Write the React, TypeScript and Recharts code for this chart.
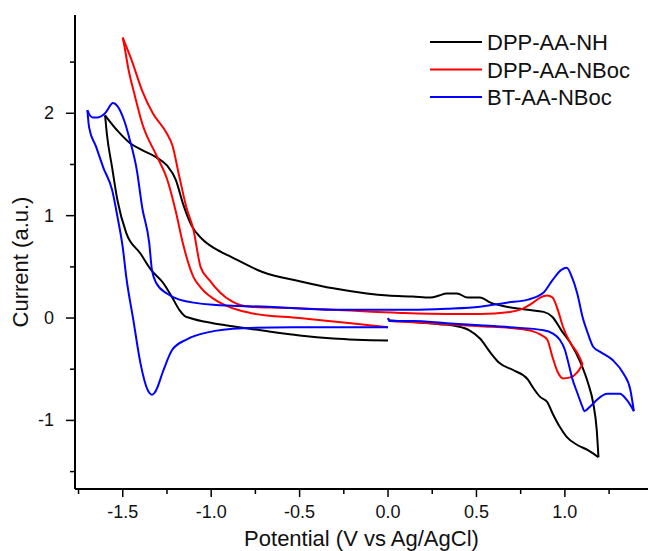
import { LineChart, Line, XAxis, YAxis, Legend } from "recharts";

// potential (V vs Ag/AgCl) and current (a.u.), in scan order
const dppNhE = [
  0.0, 0.14, 0.29, 0.39, 0.46, 0.52, 0.58, 0.63, 0.71, 0.79, 0.82, 0.86, 0.9, 0.93, 0.97, 1.01, 1.07, 1.13, 1.19,
  1.18, 1.16, 1.13, 1.09, 1.03, 0.98, 0.93, 0.88, 0.79, 0.67, 0.58, 0.52, 0.45, 0.39, 0.33, 0.29, 0.24, 0.14, 0.0,
  -0.12, -0.31, -0.5, -0.71, -0.89, -0.98, -1.05, -1.11, -1.16, -1.2, -1.25, -1.31, -1.39, -1.46, -1.53, -1.6,
  -1.59, -1.56, -1.53, -1.48, -1.4, -1.34, -1.27, -1.22, -1.18, -1.15, -1.12, -0.99, -0.88, -0.68, -0.5, -0.31, 0.0,
];
const dppNhI = [
  -0.02, -0.04, -0.06, -0.08, -0.12, -0.2, -0.34, -0.44, -0.51, -0.6, -0.68, -0.77, -0.82, -0.93, -1.06, -1.16, -1.24, -1.29, -1.36,
  -1.09, -0.83, -0.63, -0.44, -0.24, -0.12, 0.01, 0.06, 0.08, 0.11, 0.15, 0.2, 0.2, 0.24, 0.24, 0.22, 0.2, 0.21, 0.22,
  0.24, 0.29, 0.36, 0.45, 0.6, 0.68, 0.77, 0.9, 1.12, 1.35, 1.49, 1.57, 1.64, 1.71, 1.83, 1.98,
  1.8, 1.47, 1.15, 0.83, 0.63, 0.47, 0.34, 0.2, 0.08, 0.02, 0.0, -0.05, -0.08, -0.13, -0.17, -0.2, -0.22,
];

const dppNbocE = [
  0.0, 0.01, 0.14, 0.33, 0.52, 0.71, 0.82, 0.86, 0.9, 0.93, 0.96, 0.99, 1.03, 1.07, 1.1,
  1.07, 1.03, 0.99, 0.96, 0.93, 0.9, 0.86, 0.82, 0.76, 0.69, 0.52, 0.33, 0.07, -0.31, -0.59, -0.78, -0.88, -0.95,
  -1.01, -1.06, -1.1, -1.14, -1.18, -1.22, -1.25, -1.33, -1.39, -1.45, -1.5,
  -1.49, -1.47, -1.43, -1.39, -1.31, -1.25, -1.2, -1.16, -1.1, -1.06, -0.95, -0.78, -0.5, -0.21, 0.0,
];
const dppNbocI = [
  0.0, -0.03, -0.04, -0.06, -0.08, -0.1, -0.13, -0.16, -0.21, -0.38, -0.53, -0.59, -0.58, -0.53, -0.45,
  -0.34, -0.24, -0.09, 0.08, 0.2, 0.22, 0.2, 0.15, 0.09, 0.06, 0.04, 0.04, 0.05, 0.08, 0.1, 0.11, 0.16, 0.25,
  0.37, 0.5, 0.86, 1.08, 1.38, 1.69, 1.8, 2.0, 2.22, 2.52, 2.74,
  2.65, 2.45, 2.16, 1.9, 1.59, 1.36, 1.04, 0.73, 0.4, 0.3, 0.15, 0.05, 0.0, -0.05, -0.09,
];

const btNbocE = [
  0.0, 0.01, 0.14, 0.33, 0.52, 0.69, 0.88, 0.93, 0.97, 1.0, 1.02, 1.04, 1.07, 1.1, 1.11, 1.14, 1.18, 1.24, 1.31, 1.35, 1.37, 1.39,
  1.37, 1.33, 1.27, 1.2, 1.16, 1.13, 1.1, 1.07, 1.04, 1.01, 0.98, 0.93, 0.88, 0.79, 0.67, 0.52, 0.33, 0.14, -0.05, -0.31, -0.68, -0.99,
  -1.18, -1.25, -1.31, -1.335, -1.35, -1.39, -1.42, -1.46, -1.49, -1.53, -1.555, -1.6, -1.64, -1.67, -1.69, -1.7,
  -1.69, -1.65, -1.61, -1.56, -1.53, -1.5, -1.48, -1.44, -1.4, -1.36, -1.35, -1.335, -1.32, -1.31, -1.27, -1.22, -1.14, -1.02, -0.82, -0.54, 0.0,
];
const btNbocI = [
  0.0, -0.03, -0.03, -0.05, -0.07, -0.09, -0.12, -0.15, -0.21, -0.31, -0.44, -0.58, -0.73, -0.87, -0.91, -0.87, -0.8, -0.74, -0.74, -0.8, -0.85, -0.91,
  -0.7, -0.54, -0.41, -0.33, -0.28, -0.15, 0.01, 0.24, 0.4, 0.49, 0.47, 0.37, 0.25, 0.18, 0.15, 0.11, 0.09, 0.08, 0.08, 0.08, 0.11, 0.13,
  0.18, 0.24, 0.34, 0.47, 0.73, 1.08, 1.44, 1.74, 1.92, 2.07, 2.1, 2.0, 1.96, 1.96, 1.99, 2.03,
  1.86, 1.67, 1.47, 1.25, 0.99, 0.69, 0.4, -0.02, -0.44, -0.7, -0.73, -0.75, -0.73, -0.7, -0.51, -0.31, -0.21, -0.14, -0.1, -0.09, -0.09,
];

const xTicks = [-1.75, -1.5, -1.25, -1, -0.75, -0.5, -0.25, 0, 0.25, 0.5, 0.75, 1, 1.25];
const yTicks = [-1.5, -1, -0.5, 0, 0.5, 1, 1.5, 2, 2.5];

type Pt = { e: number; i: number };

// split a scan into sweeps at the turning potentials, so each piece can be smoothed along x
function sweeps(e: number[], i: number[]): Pt[][] {
  const pts = e.map((v, k) => ({ e: v, i: i[k] }));
  const out: Pt[][] = [];
  let cur: Pt[] = [pts[0]];
  let dir = 0;
  for (let k = 1; k < pts.length; k++) {
    const d = Math.sign(pts[k].e - pts[k - 1].e);
    if (dir !== 0 && d !== 0 && d !== dir) {
      out.push(cur);
      cur = [pts[k - 1]];
    }
    if (d !== 0) dir = d;
    cur.push(pts[k]);
  }
  out.push(cur);
  return out;
}

const series = [
  { name: "DPP-AA-NH", color: "#000000", parts: sweeps(dppNhE, dppNhI) },
  { name: "DPP-AA-NBoc", color: "#ff0000", parts: sweeps(dppNbocE, dppNbocI) },
  { name: "BT-AA-NBoc", color: "#0000ff", parts: sweeps(btNbocE, btNbocI) },
];

const font = '"Liberation Sans", Arial, sans-serif';
const textColor = "#111";

function XTick({ x, y, payload }: any) {
  const major = Math.abs(payload.value * 2 - Math.round(payload.value * 2)) < 1e-6;
  return (
    <g>
      <line x1={x} y1={y} x2={x} y2={y + (major ? 8 : 5)} stroke="#000" strokeWidth={1.5} />
      {major && (
        <text x={x} y={y + 29} textAnchor="middle" fontSize={18} fontFamily={font} fill={textColor}>
          {payload.value.toFixed(1)}
        </text>
      )}
    </g>
  );
}

function YTick({ x, y, payload }: any) {
  const major = Math.abs(payload.value - Math.round(payload.value)) < 1e-6;
  return (
    <g>
      <line x1={x} y1={y} x2={x - (major ? 9 : 5)} y2={y} stroke="#000" strokeWidth={1.5} />
      {major && (
        <text x={x - 21} y={y + 6} textAnchor="end" fontSize={18} fontFamily={font} fill={textColor}>
          {payload.value}
        </text>
      )}
    </g>
  );
}

function YLabel({ viewBox }: any) {
  const cx = 20;
  const cy = (viewBox?.y ?? 15) + (viewBox?.height ?? 474) / 2 + 10;
  return (
    <text
      x={cx}
      y={cy}
      transform={`rotate(-90 ${cx} ${cy})`}
      textAnchor="middle"
      dominantBaseline="central"
      fontSize={22}
      fontFamily={font}
      fill={textColor}
    >
      Current (a.u.)
    </text>
  );
}

function LegendBox() {
  return (
    <svg width={220} height={90}>
      {series.map((s, k) => {
        const cy = 14 + k * 27.5;
        return (
          <g key={s.name}>
            <line x1={2} x2={54} y1={cy} y2={cy} stroke={s.color} strokeWidth={2} />
            <text x={59} y={cy + 8} fontSize={22} fontFamily={font} fill={textColor}>
              {s.name}
            </text>
          </g>
        );
      })}
    </svg>
  );
}

export default function App() {
  return (
    <div style={{ position: "absolute", left: 0, top: 0, background: "#fff" }}>
      <LineChart width={648} height={551} margin={{ top: 15, right: 0, bottom: 0, left: 0 }}>
        <XAxis
          type="number"
          dataKey="e"
          domain={[-1.77, 1.47]}
          ticks={xTicks}
          allowDataOverflow
          height={62}
          tickSize={0}
          tickMargin={0}
          tickLine={false}
          axisLine={{ stroke: "#000", strokeWidth: 2 }}
          tick={XTick}
          label={{
            value: "Potential (V vs Ag/AgCl)",
            position: "insideBottom",
            offset: 5,
            fontSize: 22,
            fontFamily: font,
            fill: textColor,
          }}
        />
        <YAxis
          type="number"
          dataKey="i"
          domain={[-1.67, 2.96]}
          ticks={yTicks}
          allowDataOverflow
          width={75}
          tickSize={0}
          tickMargin={0}
          tickLine={false}
          axisLine={{ stroke: "#000", strokeWidth: 2 }}
          tick={YTick}
          label={YLabel}
        />
        <Legend
          layout="horizontal"
          verticalAlign="middle"
          align="center"
          content={LegendBox}
          wrapperStyle={{ left: 428, top: 28, width: 220, height: 90 }}
        />
        {series.flatMap((s) =>
          s.parts.map((part, k) => (
            <Line
              key={`${s.name}-${k}`}
              data={part}
              dataKey="i"
              name={s.name}
              type="monotone"
              stroke={s.color}
              strokeWidth={2}
              strokeLinejoin="round"
              dot={false}
              activeDot={false}
              isAnimationActive={false}
            />
          ))
        )}
      </LineChart>
    </div>
  );
}
